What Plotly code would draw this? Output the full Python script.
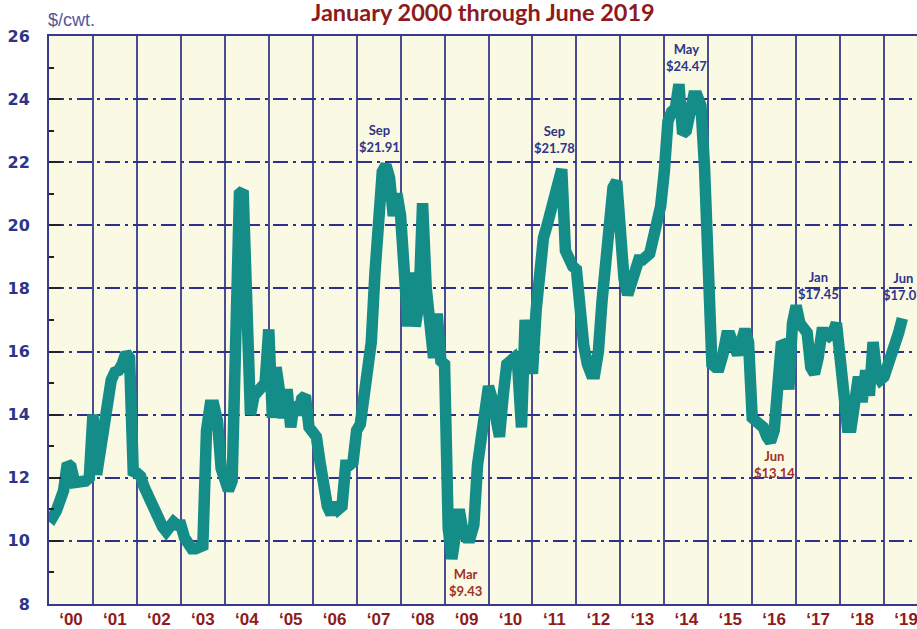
import plotly.graph_objects as go

# ---------------- data (monthly, $/cwt) ----------------
start_year = 2000
p2000 = [10.85, 10.75, 10.95, 11.3, 11.6, 12.45, 12.35, 11.85, 11.85, 11.85, 11.9, 12.0]
p2001 = [14.0, 12.1, 12.85, 13.8, 14.7, 15.1, 15.35, 15.4, 15.6, 15.95, 15.8, 12.2]
p2002 = [12.15, 12.05, 11.7, 11.4, 11.2, 10.85, 10.55, 10.45, 10.3, 10.55, 10.6, 10.5]
p2003 = [10.5, 10.1, 9.8, 9.75, 9.75, 9.8, 9.85, 13.5, 14.3, 14.3, 13.8, 12.3]
p2004 = [11.8, 11.6, 11.9, 18.0, 21.0, 21.1, 17.0, 14.0, 14.6, 14.7, 14.9, 15.0]
p2005 = [16.7, 13.9, 15.5, 14.7, 13.9, 14.8, 13.6, 14.4, 14.0, 14.5, 14.6, 13.6]
p2006 = [13.4, 13.3, 12.5, 11.4, 11.1, 10.85, 11.2, 11.0, 11.1, 12.4, 12.4, 12.5]
p2007 = [13.5, 13.7, 14.5, 15.0, 16.3, 18.5, 20.8, 21.7, 21.91, 21.5, 20.3, 21.0]
p2008 = [20.3, 17.5, 16.8, 18.5, 16.8, 17.5, 20.7, 18.0, 17.0, 15.8, 17.2, 15.7]
p2009 = [15.6, 10.4, 9.43, 10.6, 11.0, 10.3, 10.1, 10.1, 10.5, 12.4, 13.2, 14.5]
p2010 = [14.9, 14.5, 13.6, 13.3, 14.6, 15.6, 15.7, 15.8, 15.5, 13.6, 17.0, 16.3]
p2011 = [15.3, 17.3, 19.1, 19.6, 20.0, 20.5, 21.0, 21.5, 21.78, 19.2, 18.8, 18.7]
p2012 = [18.6, 17.2, 16.2, 15.6, 15.3, 15.3, 16.0, 17.6, 19.0, 20.0, 21.2, 21.4]
p2013 = [19.3, 18.3, 17.8, 18.2, 18.8, 18.9, 18.9, 19.0, 19.1, 19.6, 20.1, 20.6]
p2014 = [21.7, 23.3, 23.6, 23.7, 24.47, 22.9, 23.0, 23.6, 24.1, 24.1, 23.8, 21.8]
p2015 = [18.3, 15.6, 15.5, 15.5, 15.9, 16.5, 16.5, 16.2, 15.9, 16.3, 16.7, 16.3]
p2016 = [13.9, 13.8, 13.7, 13.6, 13.3, 13.14, 13.5, 15.6, 16.3, 16.2, 14.8, 16.9]
p2017 = [17.45, 16.9, 16.8, 16.6, 15.5, 15.3, 15.8, 16.6, 16.6, 16.5, 16.6, 16.9]
p2018 = [15.8, 14.6, 13.6, 13.6, 14.8, 15.2, 14.4, 15.4, 14.6, 16.3, 15.3, 15.1]
p2019 = [15.2, 15.5, 15.9, 16.1, 16.6, 17.05]

yearly = [p2000, p2001, p2002, p2003, p2004, p2005, p2006, p2007, p2008, p2009,
          p2010, p2011, p2012, p2013, p2014, p2015, p2016, p2017, p2018, p2019]

tick_years = list(range(2000, 2020))
tick_text = ["\u2018%02d" % (yr % 100) for yr in tick_years]

# labelled points: (year, month, text)
ann_year = [2007, 2009, 2011, 2014, 2016, 2017, 2019]
ann_month = [9, 3, 9, 5, 6, 1, 6]
ann_text = ["Sep<br>$21.91", "Mar<br>$9.43", "Sep<br>$21.78", "May<br>$24.47",
            "Jun<br>$13.14", "Jan<br>$17.45", "Jun<br>$17.07"]
ann_above = [True, False, True, True, False, True, True]

# ---------------- build series ----------------
values = [v for yr in yearly for v in yr]
xs = [start_year + i / 12.0 for i in range(len(values))]

NAVY = "#2E3588"
RED = "#8E1B1B"
GRID_V = "#4B4B90"
GRID_H = "#2F2F8C"

fig = go.Figure()
fig.add_trace(go.Scatter(
    x=xs, y=values, mode="lines",
    line=dict(color="#148C87", width=11.5),
    hoverinfo="skip", showlegend=False,
))

# styling offsets for the labels (pixels)
ann_dx = [-6, 14, -7, 8, 4, 22, 1]
ann_dy = [8, -5, 11, 8, -4, 2, 13]

for yr, mo, txt, above, dx, dy in zip(ann_year, ann_month, ann_text, ann_above, ann_dx, ann_dy):
    idx = (yr - start_year) * 12 + (mo - 1)
    fig.add_annotation(
        x=xs[idx], y=values[idx], xref="x", yref="y",
        text=txt, showarrow=False,
        xanchor="center", yanchor="bottom" if above else "top",
        xshift=dx, yshift=dy,
        font=dict(family="Lato", size=13, weight="bold",
                  color=NAVY if above else "#A0302A"),
        align="center",
    )

fig.add_annotation(
    text="$/cwt.", xref="paper", yref="paper", x=0, y=1,
    xanchor="left", yanchor="middle", xshift=-3, yshift=16, showarrow=False,
    font=dict(family="Liberation Sans", size=18, color="#55559A"),
)

fig.update_layout(
    width=917, height=629,
    margin=dict(l=49, r=0, t=36, b=25, autoexpand=False),
    paper_bgcolor="white",
    plot_bgcolor="#FAF9E3",
    title=dict(
        text="<b>January 2000 through June 2019</b>",
        x=0.5, xref="paper", xanchor="center",
        y=1 - 13 / 629, yref="container", yanchor="middle",
        font=dict(family="Lato", size=23.5, color=RED),
    ),
    showlegend=False,
)

fig.update_xaxes(
    range=[2000, 2000 + (917 - 49.0) / 43.95],
    tickmode="array",
    tickvals=[yr + 0.5 for yr in tick_years],
    ticktext=tick_text,
    ticks="",
    ticklabeloverflow="allow",
    showgrid=False,
    zeroline=False,
    showline=True, linecolor="#3A3A8A", linewidth=2, mirror=True,
    tickfont=dict(family="Liberation Sans Narrow, Liberation Sans", size=17,
                  color=RED, weight="bold"),
    ticklabelstandoff=-1,
    minor=dict(tickmode="linear", tick0=2000, dtick=1, showgrid=True,
               gridcolor=GRID_V, gridwidth=1.5, ticks=""),
    fixedrange=True,
)

fig.update_yaxes(
    range=[8, 26],
    tickmode="linear", tick0=8, dtick=2,
    ticks="inside", ticklen=12, tickwidth=1.5, tickcolor="#222222",
    showgrid=True, gridcolor=GRID_H, gridwidth=1.5, griddash="15px,5px,3px,5px",
    zeroline=False,
    showline=True, linecolor="#3A3A8A", linewidth=2, mirror=False,
    tickfont=dict(family="DejaVu Sans", size=16, color=NAVY, weight="bold"),
    ticklabelstandoff=14,
    minor=dict(tickmode="linear", tick0=9, dtick=2, ticks="inside", ticklen=5,
               tickwidth=1.5, tickcolor="#222222", showgrid=False),
    fixedrange=True,
)

fig.write_html(
    "out.html",
    config={"displayModeBar": False},
    post_script="document.body.style.margin='0px';document.body.style.overflow='hidden';",
)
